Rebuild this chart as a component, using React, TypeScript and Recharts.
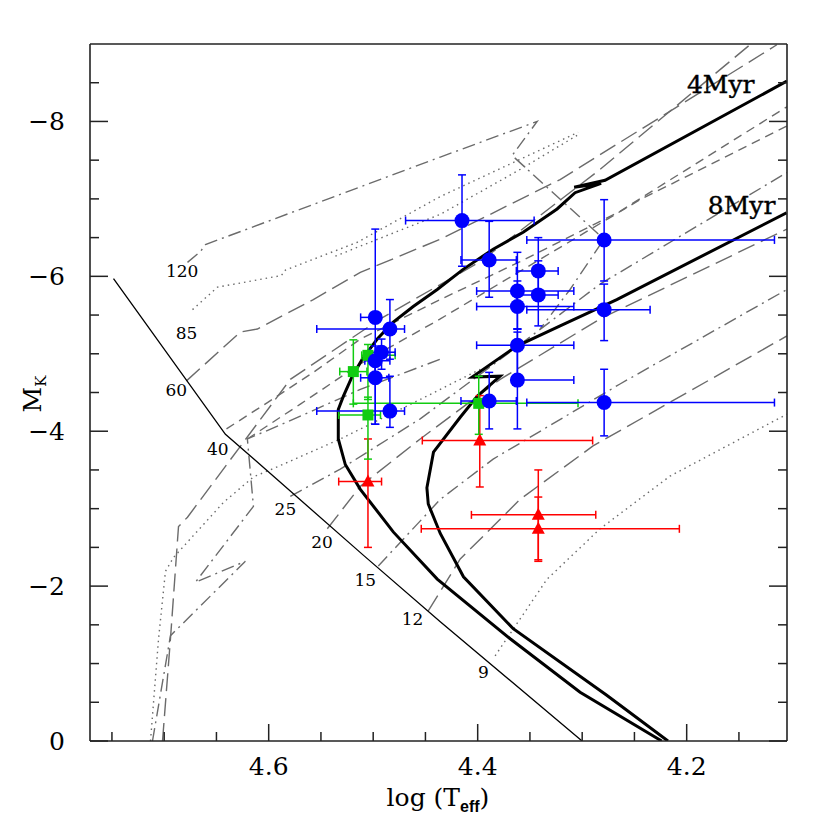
import React from "react";
import { ComposedChart, Line, Scatter, XAxis, YAxis, ErrorBar } from "recharts";

type Pt = [number, number];

// axes
const xDomain: Pt = [4.104, 4.771];
const yDomain: Pt = [-9, 0];
const xTicks = [4.15, 4.2, 4.25, 4.3, 4.35, 4.4, 4.45, 4.5, 4.55, 4.6, 4.65, 4.7, 4.75];
const xMajor = [4.2, 4.4, 4.6];
const yTicks = [-8.5, -8, -7.5, -7, -6.5, -6, -5.5, -5, -4.5, -4, -3.5, -3, -2.5, -2, -1.5, -1, -0.5, 0];
const yMajor = [-8, -6, -4, -2, 0];

// stars: log Teff, M_K and error ranges
const blueLogT = [4.415, 4.389, 4.342, 4.362, 4.342, 4.362, 4.279, 4.279, 4.362, 4.362, 4.389, 4.279, 4.498, 4.484, 4.492, 4.498, 4.498, 4.484];
const blueMK = [-6.72, -6.21, -6.07, -5.81, -5.76, -5.61, -6.47, -5.57, -5.11, -4.66, -4.39, -4.37, -5.47, -5.32, -5.02, -4.91, -4.69, -4.26];
const blueTRange: Pt[] = [[4.346, 4.469], [4.363, 4.416], [4.323, 4.363], [4.308, 4.401], [4.323, 4.363], [4.308, 4.401], [4.116, 4.353], [4.235, 4.353], [4.308, 4.401], [4.308, 4.367], [4.363, 4.416], [4.116, 4.353], [4.493, 4.512], [4.47, 4.554], [4.479, 4.503], [4.484, 4.508], [4.485, 4.512], [4.47, 4.554]];
const blueMRange: Pt[] = [[-7.31, -6.13], [-6.71, -5.73], [-6.5, -5.81], [-6.31, -5.32], [-6.2, -5.36], [-5.94, -5.32], [-6.99, -5.94], [-5.9, -5.17], [-5.32, -4.61], [-5.28, -4.03], [-4.76, -4.03], [-4.8, -3.94], [-6.61, -4.09], [-5.7, -4.93], [-5.19, -4.8], [-5.1, -4.7], [-4.99, -4.09], [-4.71, -4.05]];

const greenLogT = [4.519, 4.505, 4.505, 4.399];
const greenMK = [-4.77, -4.98, -4.21, -4.36];
const greenTRange: Pt[] = [[4.506, 4.532], [4.479, 4.511], [4.493, 4.533], [4.304, 4.519]];
const greenMRange: Pt[] = [[-5.18, -4.35], [-5.12, -4.41], [-4.44, -3.64], [-4.71, -3.96]];

const redLogT = [4.505, 4.398, 4.342, 4.342];
const redMK = [-3.35, -3.88, -2.92, -2.74];
const redTRange: Pt[] = [[4.492, 4.533], [4.29, 4.453], [4.287, 4.406], [4.207, 4.454]];
const redMRange: Pt[] = [[-3.9, -2.5], [-4.46, -3.28], [-3.5, -2.34], [-3.15, -2.32]];

// ZAMS and isochrones
const zams: Pt[] = [[4.7485, -5.97], [4.6414, -3.96], [4.6175, -3.68], [4.5095, -2.4], [4.4358, -1.54], [4.3001, 0]];
const iso4: Pt[] = [[4.2239, 0], [4.302, -0.63], [4.3689, -1.32], [4.4387, -2.09], [4.4808, -2.7], [4.5123, -3.25], [4.5267, -3.57], [4.5334, -3.9], [4.5334, -4.28], [4.5286, -4.45], [4.52, -4.71], [4.5104, -4.93], [4.4961, -5.19], [4.4808, -5.41], [4.4617, -5.61], [4.4387, -5.83], [4.4139, -6.09], [4.3852, -6.35], [4.3565, -6.57], [4.324, -6.87], [4.3068, -7.08], [4.2819, -7.2], [4.3077, -7.15], [4.2781, -7.24], [4.1041, -8.52]];
const iso8: Pt[] = [[4.2179, 0], [4.2765, -0.59], [4.366, -1.45], [4.4136, -2.12], [4.4358, -2.68], [4.4473, -3.06], [4.4486, -3.27], [4.4423, -3.73], [4.4167, -4.18], [4.4005, -4.45], [4.3785, -4.71], [4.4053, -4.7], [4.3625, -5.1], [4.3211, -5.36], [4.2669, -5.7], [4.1044, -6.82]];

// evolutionary tracks (grey)
const track120: Pt[] = [[4.6777, -6.18], [4.6653, -6.32], [4.6605, -6.41], [4.4358, -7.54], [4.3431, -8.0], [4.367, -7.56], [4.2791, -6.48], [4.3116, -5.83], [4.3402, -5.32]];
const track85: Pt[] = [[4.6729, -5.57], [4.649, -5.86], [4.5879, -6.01], [4.584, -6.08], [4.5152, -6.44], [4.4358, -7.03], [4.3039, -7.86]];
const track85b: Pt[] = [[4.5362, -6.26], [4.5123, -6.39], [4.4358, -6.8], [4.3594, -7.38], [4.3049, -7.82]];
const track60: Pt[] = [[4.6787, -4.65], [4.6271, -5.28], [4.6108, -5.32], [4.5573, -5.7], [4.5123, -6.05], [4.4358, -6.48], [4.3211, -7.25], [4.1137, -8.99]];
const trackA: Pt[] = [[4.7016, 0], [4.694, -1.32], [4.6863, -2.77], [4.6777, -2.89], [4.5793, -4.67], [4.4932, -5.45], [4.3976, -6.19], [4.2829, -7.38], [4.1395, -8.99]];
const track40: Pt[] = [[4.6404, -4.03], [4.6012, -4.37], [4.5573, -4.76], [4.5123, -5.19], [4.4358, -5.7], [4.3594, -6.19], [4.2638, -6.84], [4.1041, -8.19]];
const trackB: Pt[] = [[4.6204, -3.9], [4.5697, -4.35], [4.5123, -4.87], [4.4358, -5.45], [4.3402, -6.22], [4.2446, -6.99], [4.1041, -7.94]];
const track25: Pt[] = [[4.5793, -3.16], [4.5315, -3.51], [4.455, -4.16], [4.3594, -5.12], [4.2829, -5.9], [4.1041, -7.34]];
const track20: Pt[] = [[4.5439, -2.74], [4.5123, -3.29], [4.455, -3.9], [4.3785, -4.67], [4.2829, -5.45], [4.1041, -6.61]];
const track15: Pt[] = [[4.4951, -2.26], [4.4358, -3.12], [4.3852, -3.64], [4.2638, -4.61], [4.1041, -5.83]];
const track12: Pt[] = [[4.4473, -1.68], [4.4167, -2.35], [4.3594, -3.12], [4.2896, -3.81], [4.1041, -5.23]];
const track9: Pt[] = [[4.3833, -1.1], [4.3336, -2.09], [4.2829, -2.74], [4.216, -3.42], [4.1041, -4.22]];
const trackC: Pt[] = [[4.7131, 0], [4.7054, -1.32], [4.6988, -2.19], [4.6911, -2.37], [4.6433, -3.08], [4.6146, -3.41], [4.5917, -3.54], [4.5315, -3.9], [4.455, -4.41], [4.3976, -4.8]];
const trackD: Pt[] = [[4.7112, 0], [4.694, -1.36], [4.6223, -2.32], [4.6701, -2.05], [4.6146, -3.03], [4.6204, -3.9], [4.5821, -4.12], [4.5123, -4.54], [4.4358, -4.93]];

// labels
const massLabels = ["120", "85", "60", "40", "25", "20", "15", "12", "9"];
const massLogT = [4.6828, 4.6787, 4.6885, 4.6488, 4.584, 4.549, 4.5076, 4.4623, 4.3945];
const massMK = [-6.07, -5.27, -4.53, -3.77, -2.99, -2.57, -2.08, -1.58, -0.89];
const ageLabels = ["4Myr", "8Myr"];
const ageLogT = [4.1674, 4.1474];
const ageMK = [-8.37, -6.8];

const LONG = "18 7";
const DASH = "9 6";
const DOT = "1.5 4";
const DASHDOT = "13 5 2 5";
const GREY = "#6b6b6b";

const tracks: { pts: Pt[]; dash: string }[] = [
  { pts: track120, dash: DASHDOT },
  { pts: track85, dash: DOT },
  { pts: track85b, dash: DOT },
  { pts: track60, dash: LONG },
  { pts: trackA, dash: LONG },
  { pts: track40, dash: DASH },
  { pts: trackB, dash: DASH },
  { pts: track25, dash: DASHDOT },
  { pts: track20, dash: LONG },
  { pts: track15, dash: DASHDOT },
  { pts: track12, dash: LONG },
  { pts: track9, dash: DOT },
  { pts: trackC, dash: DOT },
  { pts: trackD, dash: DASHDOT },
];

const toRows = (pts: Pt[]) => pts.map(([x, y]) => ({ x, y }));
const starRows = (t: number[], m: number[], tr: Pt[], mr: Pt[]) =>
  t.map((x, i) => ({
    x,
    y: m[i],
    ex: [x - tr[i][0], tr[i][1] - x],
    ey: [m[i] - mr[i][0], mr[i][1] - m[i]],
  }));
const labelRows = (labels: string[], t: number[], m: number[]) =>
  labels.map((label, i) => ({ x: t[i], y: m[i], label }));

const SERIF = "'DejaVu Serif', serif";
const FRAME = "#222";
const isIn = (v: number, list: number[]) => list.some((m) => Math.abs(v - m) < 1e-6);

function XTick(props: any) {
  const { x, y, payload, side } = props;
  const major = isIn(payload.value, xMajor);
  const len = major ? 17 : 9;
  const dir = side === "top" ? 1 : -1;
  return (
    <g>
      <line x1={x} y1={y} x2={x} y2={y + dir * len} stroke={FRAME} strokeWidth={1.5} />
      {major && side === "bottom" && (
        <text x={x} y={y + 34} textAnchor="middle" fontFamily={SERIF} fontSize={25} fill="#000">
          {payload.value.toFixed(1)}
        </text>
      )}
    </g>
  );
}

function YTick(props: any) {
  const { x, y, payload, side } = props;
  const major = isIn(payload.value, yMajor);
  const len = major ? 18 : 9;
  const dir = side === "left" ? 1 : -1;
  const v = payload.value;
  return (
    <g>
      <line x1={x} y1={y} x2={x + dir * len} y2={y} stroke={FRAME} strokeWidth={1.5} />
      {major && side === "left" && (
        <text x={x - 25} y={y} textAnchor="end" dominantBaseline="central" fontFamily={SERIF} fontSize={25} fill="#000">
          {v === 0 ? "0" : `\u2212${Math.abs(v)}`}
        </text>
      )}
    </g>
  );
}

const Circle = (p: any) => <circle cx={p.cx} cy={p.cy} r={7.5} fill="#0000ff" />;
const Square = (p: any) => <rect x={p.cx - 5.5} y={p.cy - 5.5} width={11} height={11} fill="#11cc11" />;
const Triangle = (p: any) => (
  <polygon points={`${p.cx},${p.cy - 7} ${p.cx - 6.5},${p.cy + 5} ${p.cx + 6.5},${p.cy + 5}`} fill="#ff0000" />
);
const MassText = (p: any) => (
  <text x={p.cx} y={p.cy} textAnchor="middle" dominantBaseline="central" fontFamily={SERIF} fontSize={17} fill="#000">
    {p.payload.label}
  </text>
);
const AgeText = (p: any) => (
  <text x={p.cx} y={p.cy} textAnchor="middle" fontFamily={SERIF} fontSize={25} fill="#000" stroke="#000" strokeWidth={0.4}>
    {p.payload.label}
  </text>
);

const axisCommon = {
  type: "number" as const,
  allowDataOverflow: true,
  interval: 0 as const,
  tickSize: 0,
  tickMargin: 0,
  tickLine: false,
  axisLine: { stroke: FRAME, strokeWidth: 1.6 },
};

export default function App() {
  const blue = starRows(blueLogT, blueMK, blueTRange, blueMRange);
  const green = starRows(greenLogT, greenMK, greenTRange, greenMRange);
  const red = starRows(redLogT, redMK, redTRange, redMRange);

  return (
    <div style={{ position: "relative", width: 814, height: 814, background: "#fff" }}>
      <ComposedChart width={814} height={814} margin={{ top: 35, right: 34, bottom: 0, left: 0 }}>
        <XAxis {...axisCommon} dataKey="x" domain={xDomain} reversed ticks={xTicks} height={81} tick={<XTick side="bottom" />} />
        <XAxis {...axisCommon} xAxisId="top" orientation="top" domain={xDomain} reversed ticks={xTicks} height={1} tick={<XTick side="top" />} />
        <YAxis {...axisCommon} dataKey="y" domain={yDomain} reversed ticks={yTicks} width={82} tick={<YTick side="left" />} />
        <YAxis {...axisCommon} yAxisId="right" orientation="right" domain={yDomain} reversed ticks={yTicks} width={1} tick={<YTick side="right" />} />

        {tracks.map((t, i) => (
          <Line
            key={`track-${i}`}
            data={toRows(t.pts)}
            dataKey="y"
            type="linear"
            stroke={GREY}
            strokeWidth={1.4}
            strokeDasharray={t.dash}
            dot={false}
            activeDot={false}
            isAnimationActive={false}
          />
        ))}
        <Line data={toRows(zams)} dataKey="y" type="linear" stroke="#000" strokeWidth={1.3} dot={false} activeDot={false} isAnimationActive={false} />
        <Line data={toRows(iso4)} dataKey="y" type="linear" stroke="#000" strokeWidth={3} dot={false} activeDot={false} isAnimationActive={false} />
        <Line data={toRows(iso8)} dataKey="y" type="linear" stroke="#000" strokeWidth={3} dot={false} activeDot={false} isAnimationActive={false} />

        <Scatter data={labelRows(massLabels, massLogT, massMK)} shape={MassText} isAnimationActive={false} />
        <Scatter data={labelRows(ageLabels, ageLogT, ageMK)} shape={AgeText} isAnimationActive={false} />

        <Scatter data={red} shape={Triangle} isAnimationActive={false}>
          <ErrorBar dataKey="ex" direction="x" width={4} stroke="#ff0000" strokeWidth={1.5} />
          <ErrorBar dataKey="ey" direction="y" width={4} stroke="#ff0000" strokeWidth={1.5} />
        </Scatter>
        <Scatter data={green} shape={Square} isAnimationActive={false}>
          <ErrorBar dataKey="ex" direction="x" width={4} stroke="#11cc11" strokeWidth={1.5} />
          <ErrorBar dataKey="ey" direction="y" width={4} stroke="#11cc11" strokeWidth={1.5} />
        </Scatter>
        <Scatter data={blue} shape={Circle} isAnimationActive={false}>
          <ErrorBar dataKey="ex" direction="x" width={4} stroke="#0000ff" strokeWidth={1.5} />
          <ErrorBar dataKey="ey" direction="y" width={4} stroke="#0000ff" strokeWidth={1.5} />
        </Scatter>
      </ComposedChart>

      <svg width={814} height={814} style={{ position: "absolute", left: 0, top: 0, pointerEvents: "none" }}>
        <text x={430} y={798} textAnchor="middle" fontFamily={SERIF} fontSize={25} fill="#000">
          log (T
          <tspan fontFamily="'Liberation Sans', Arial, sans-serif" fontWeight="bold" fontSize={16} dy={6}>eff</tspan>
          <tspan dy={-6}>)</tspan>
        </text>
        <text transform="translate(33,386) rotate(-90)" textAnchor="middle" fontFamily={SERIF} fontSize={25} fill="#000">
          M
          <tspan fontSize={15} dy={5}>K</tspan>
        </text>
      </svg>
    </div>
  );
}
